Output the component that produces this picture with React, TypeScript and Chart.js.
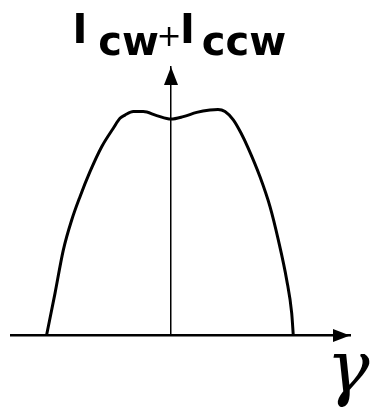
import { useEffect, useRef } from "react";
import { Chart, registerables } from "chart.js";

Chart.register(...registerables);

// Detuning γ (arbitrary units) and the summed intensity I_cw + I_ccw
const gammaValues = [
  -12.45, -11.6, -10.77, -9.93, -9.1, -8.1, -6.93, -5.77, -5.1, -4.6, -3.77, -2.77, -1.43, 0,
  1.23, 2.57, 3.9, 4.7, 5.4, 6.23, 7.0, 7.73, 8.9, 9.9, 10.73, 11.57, 12.07, 12.23,
];
const intensityValues = [
  0, 1.57, 3.18, 4.3, 5.17, 6.1, 7.03, 7.72, 8.09, 8.21, 8.34, 8.34, 8.19, 8.06,
  8.15, 8.31, 8.4, 8.42, 8.34, 8.03, 7.54, 6.97, 5.91, 4.8, 3.56, 2.07, 0.83, 0,
];

// Axis extents (the arrow tips sit at the far ends)
const xRange = [-16, 17.9];
const yRange = [0, 10];

// Axis labels: I_cw + I_ccw on the vertical axis, γ on the horizontal one
const yLabelParts = ["I", "cw", "+", "I", "ccw"];
const xLabel = "γ";

const axisDecorations = {
  id: "axisDecorations",
  afterDraw(chart: any) {
    const { ctx, chartArea, scales } = chart;
    const x0 = scales.x.getPixelForValue(0);
    const y0 = scales.y.getPixelForValue(0);
    ctx.save();
    ctx.fillStyle = "#000";

    // arrowhead on the vertical axis
    ctx.beginPath();
    ctx.moveTo(x0, chartArea.top);
    ctx.lineTo(x0 - 7, chartArea.top + 18);
    ctx.lineTo(x0 + 7, chartArea.top + 18);
    ctx.closePath();
    ctx.fill();

    // arrowhead on the horizontal axis
    ctx.beginPath();
    ctx.moveTo(chartArea.right, y0);
    ctx.lineTo(chartArea.right - 17, y0 - 6.5);
    ctx.lineTo(chartArea.right - 17, y0 + 6.5);
    ctx.closePath();
    ctx.fill();

    // vertical axis label
    ctx.textAlign = "center";
    ctx.textBaseline = "alphabetic";
    const big = "bold 40px 'DejaVu Sans'";
    ctx.font = big;
    ctx.fillText(yLabelParts[0], x0 - 91, 43);
    ctx.fillText(yLabelParts[1], x0 - 42.5, 55);
    ctx.font = "30px 'DejaVu Sans'";
    ctx.fillText(yLabelParts[2], x0 - 2, 46);
    ctx.font = big;
    ctx.fillText(yLabelParts[3], x0 + 16.5, 43);
    ctx.fillText(yLabelParts[4], x0 + 73, 55);

    // horizontal axis label
    ctx.font = "italic 72px 'DejaVu Serif'";
    ctx.fillText(xLabel, chartArea.right - 2, y0 + 56);
    ctx.restore();
  },
};

export default function App() {
  const canvasRef = useRef<HTMLCanvasElement>(null);

  useEffect(() => {
    const chart = new Chart(canvasRef.current!, {
      type: "line",
      data: {
        datasets: [
          {
            data: gammaValues.map((g, i) => ({ x: g, y: intensityValues[i] })),
            borderColor: "#000",
            borderWidth: 3,
            pointRadius: 0,
            cubicInterpolationMode: "monotone",
            fill: false,
          },
        ],
      },
      options: {
        animation: false,
        responsive: true,
        maintainAspectRatio: false,
        layout: { padding: { left: 11, right: 26, top: 67, bottom: 76.5 } },
        plugins: { legend: { display: false }, tooltip: { enabled: false } },
        scales: {
          x: {
            type: "linear",
            min: xRange[0],
            max: xRange[1],
            position: { y: 0 } as any,
            grid: { display: false },
            ticks: { display: false },
            border: { display: true, color: "#000", width: 2.5 },
          },
          y: {
            type: "linear",
            min: yRange[0],
            max: yRange[1],
            position: { x: 0 } as any,
            grid: { display: false },
            ticks: { display: false },
            border: { display: true, color: "#000", width: 1.5 },
          },
        },
      },
      plugins: [axisDecorations],
    });
    return () => chart.destroy();
  }, []);

  return (
    <div
      style={{
        position: "fixed",
        left: 0,
        top: 0,
        width: 376,
        height: 412,
        background: "#fff",
      }}
    >
      <canvas ref={canvasRef} />
    </div>
  );
}
